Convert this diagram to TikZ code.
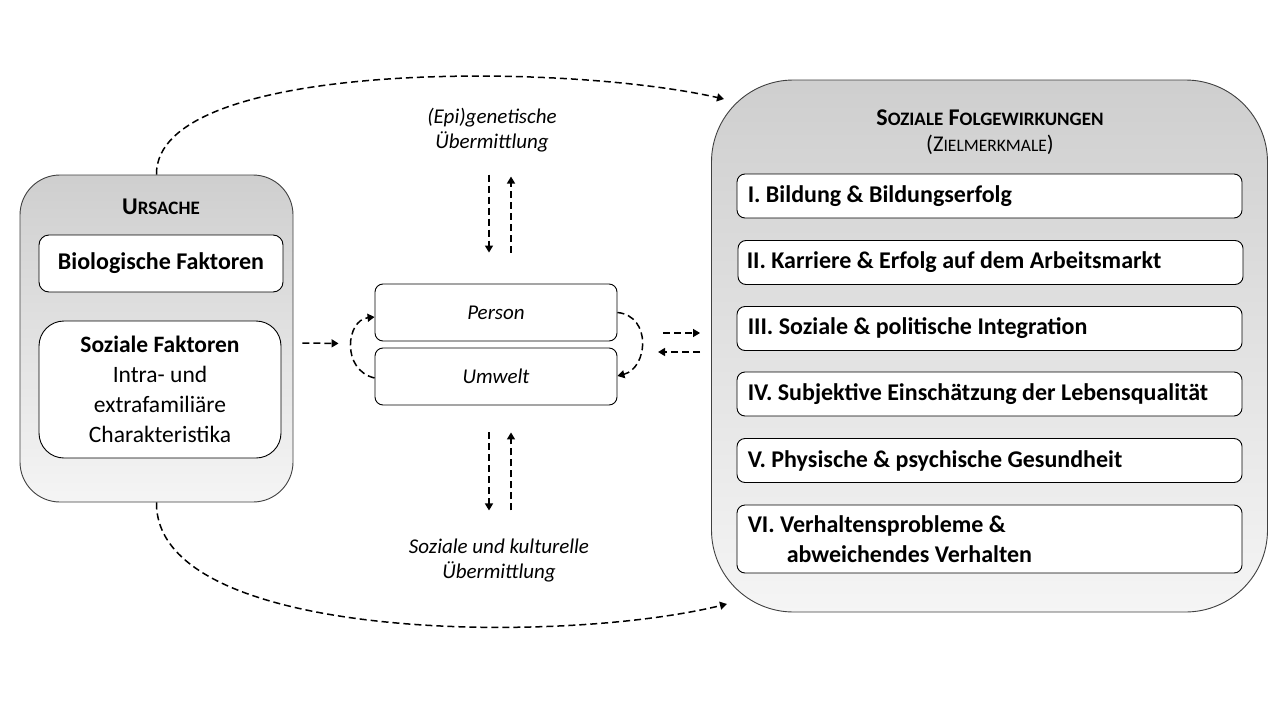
\documentclass[tikz,border=0pt]{standalone}
\usepackage{fontspec}
\setmainfont{Carlito}
\usetikzlibrary{arrows.meta}
\newcommand\mysc[2]{{\fontsize{24}{28}\selectfont #1}{\fontsize{19}{22}\selectfont #2}}
\tikzset{
  outerbox/.style={draw=black!75, line width=0.9pt, top color=black!19, bottom color=black!4, inner sep=0pt},
  innerbox/.style={draw=black, line width=0.9pt, fill=white, inner sep=0pt},
  itembox/.style={draw=black, line width=0.9pt, fill=white, rounded corners=8pt, minimum height=44pt, minimum width=505pt, inner sep=0pt},
  itemtext/.style={anchor=west, inner sep=0pt, align=left, font=\bfseries\fontsize{24}{30}\selectfont},
  pebox/.style={innerbox, rounded corners=8pt, minimum width=242pt, minimum height=57pt, font=\itshape\fontsize{21}{25}\selectfont},
  arr/.style={line width=1.5pt, dash pattern=on 7pt off 4pt, -{Triangle[length=7pt,width=8pt]}},
  lbl/.style={font=\itshape\fontsize{21}{25}\selectfont, align=center, inner sep=0pt}
}
\begin{document}
\begin{tikzpicture}[x=1pt,y=-1pt]
\useasboundingbox (0,0) rectangle (1280,720);
\fill[white] (0,0) rectangle (1280,720);
% left
\node[outerbox, rounded corners=40pt, minimum width=273pt, minimum height=327pt] (ubox) at (156.5,338.5) {};
\node[font=\bfseries] (ulbl) at (161,207) {\mysc{U}{RSACHE}};
\node[innerbox, rounded corners=10pt, minimum width=244pt, minimum height=57pt, font=\bfseries\fontsize{24}{28}\selectfont] (bio) at (161,263.5) {Biologische Faktoren};
\node[innerbox, rounded corners=25pt, minimum width=242pt, minimum height=137pt, align=center, font=\fontsize{23.5}{30}\selectfont] (soz) at (160,389.5) {\textbf{Soziale Faktoren}\\Intra- und\\extrafamiliäre\\Charakteristika};
% middle
\node[pebox] (person) at (496,312.5) {Person};
\node[pebox] (umwelt) at (496,376.5) {Umwelt};
\node[lbl] (epi) at (492,130) {(Epi)genetische\\Übermittlung};
\node[lbl] (skul) at (499,561) {Soziale und kulturelle\\Übermittlung};
% right
\node[outerbox, rounded corners=82pt, minimum width=556pt, minimum height=532pt] (rbox) at (989.5,346) {};
\node[font=\bfseries\fontsize{24}{28}\selectfont] (rlbl) at (990,118) {\mysc{S}{OZIALE} \mysc{F}{OLGEWIRKUNGEN}};
\node (rsub) at (990,145) {{\fontsize{22.5}{26}\selectfont(Z}{\fontsize{17.5}{20}\selectfont IELMERKMALE}{\fontsize{22.5}{26}\selectfont)}};
\node[itembox] (i1) at (989.5,196) {};
\node[itembox] (i2) at (990.5,262.5) {};
\node[itembox] (i3) at (989.5,328.5) {};
\node[itembox] (i4) at (989.5,394) {};
\node[itembox] (i5) at (989.5,460.5) {};
\node[itembox, minimum height=68pt] (i6) at (989.5,539) {};
\node[itemtext] (t1) at ([xshift=11pt]i1.west) {I. Bildung \& Bildungserfolg};
\node[itemtext] (t2) at ([xshift=9pt]i2.west) {II. Karriere \& Erfolg auf dem Arbeitsmarkt};
\node[itemtext] (t3) at ([xshift=11pt]i3.west) {III. Soziale \& politische Integration};
\node[itemtext] (t4) at ([xshift=11pt]i4.west) {IV. Subjektive Einschätzung der Lebensqualität};
\node[itemtext] (t5) at ([xshift=11pt]i5.west) {V. Physische \& psychische Gesundheit};
\node[itemtext] (t6) at ([xshift=11pt]i6.west) {VI. Verhaltensprobleme \&\\\hspace*{39pt}abweichendes Verhalten};
% connectors
\coordinate (topend) at (724,99);
\coordinate (botend) at (727,604);
\draw[arr] (ubox.north) .. controls (155,60) and (560,62) .. (topend);
\draw[arr] (ubox.south) .. controls (155,642) and (560,645) .. (botend);
\draw[arr] ([shift={(9,4.5)}]ubox.east) -- ([shift={(-36,2)}]person.south west);
\draw[arr] ([yshift=-1.5pt]umwelt.west) .. controls (341,370) and (346,320) .. ([yshift=-4.5pt]person.west);
\draw[arr] (person.east) .. controls (652,316) and (648,368) .. ([yshift=0.5pt]umwelt.east);
\draw[arr] ([shift={(-48,-13)}]rbox.west) -- ([shift={(-11,-13)}]rbox.west);
\draw[arr] ([shift={(-11,6)}]rbox.west) -- ([shift={(-53,6)}]rbox.west);
\draw[arr] ([shift={(-7,-109)}]person.north) -- ([shift={(-7,-31)}]person.north);
\draw[arr] ([shift={(15,-31)}]person.north) -- ([shift={(15,-107)}]person.north);
\draw[arr] ([shift={(-7,27)}]umwelt.south) -- ([shift={(-7,105)}]umwelt.south);
\draw[arr] ([shift={(15,105)}]umwelt.south) -- ([shift={(15,27)}]umwelt.south);
\end{tikzpicture}
\end{document}
